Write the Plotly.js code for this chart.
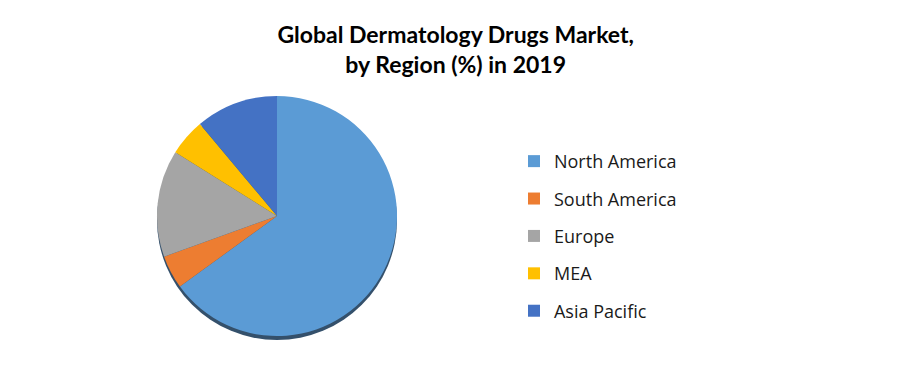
<!DOCTYPE html>
<html>
<head>
<meta charset="utf-8">
<script src="https://cdn.plot.ly/plotly-3.0.1.min.js"></script>
<style>html,body{margin:0;padding:0;background:#fff;}#chart{width:897px;height:383px;}</style>
</head>
<body>
<div id="chart"></div>
<script>
var regions = ["North America", "South America", "Europe", "MEA", "Asia Pacific"];
var shares = [65, 4.5, 14.4, 5, 11.1];
var colors = ["#5B9BD5", "#ED7D31", "#A5A5A5", "#FFC000", "#4472C4"];
var titleText = "Global Dermatology Drugs Market,<br>by Region (%) in 2019";

var W = 897, H = 383;
var cx = 277, cy = 216, r = 120;
function dom(dy) {
  return {
    x: [(cx - r) / W, (cx + r) / W],
    y: [(H - cy - dy - r) / H, (H - cy - dy + r) / H]
  };
}

var traces = [];
// shadow under the pie
traces.push({
  type: "pie", values: [1], labels: ["shadow"], sort: false,
  marker: {colors: ["#34506b"], line: {width: 0}},
  textinfo: "none", hoverinfo: "skip", showlegend: false,
  domain: dom(4)
});
traces.push({
  type: "pie", values: shares, labels: regions, sort: false,
  direction: "clockwise", rotation: 0,
  marker: {colors: colors, line: {width: 0}},
  textinfo: "none", showlegend: false,
  domain: dom(0)
});
// legend entries
for (var i = 0; i < regions.length; i++) {
  traces.push({
    type: "scatter", mode: "markers", x: [null], y: [null],
    name: regions[i], legendgroup: "g" + i,
    marker: {symbol: "square", size: 12, color: colors[i]},
    showlegend: true, hoverinfo: "skip"
  });
}

var layout = {
  width: W, height: H,
  margin: {l: 0, r: 0, t: 0, b: 0},
  paper_bgcolor: "#ffffff", plot_bgcolor: "#ffffff",
  title: {
    text: titleText,
    font: {family: "Lato, 'Open Sans', sans-serif", size: 23, color: "#000000", weight: "bold"},
    x: 0.508, xanchor: "center", y: 0.888, yanchor: "top"
  },
  xaxis: {visible: false}, yaxis: {visible: false},
  showlegend: true,
  legend: {
    x: 0.573, xanchor: "left", y: 0.384, yanchor: "middle",
    font: {family: "'Open Sans', sans-serif", size: 18, color: "#1a1a1a"},
    tracegroupgap: 11, itemwidth: 30, bgcolor: "rgba(0,0,0,0)"
  }
};

Plotly.newPlot("chart", traces, layout, {displayModeBar: false, staticPlot: true});
</script>
</body>
</html>
